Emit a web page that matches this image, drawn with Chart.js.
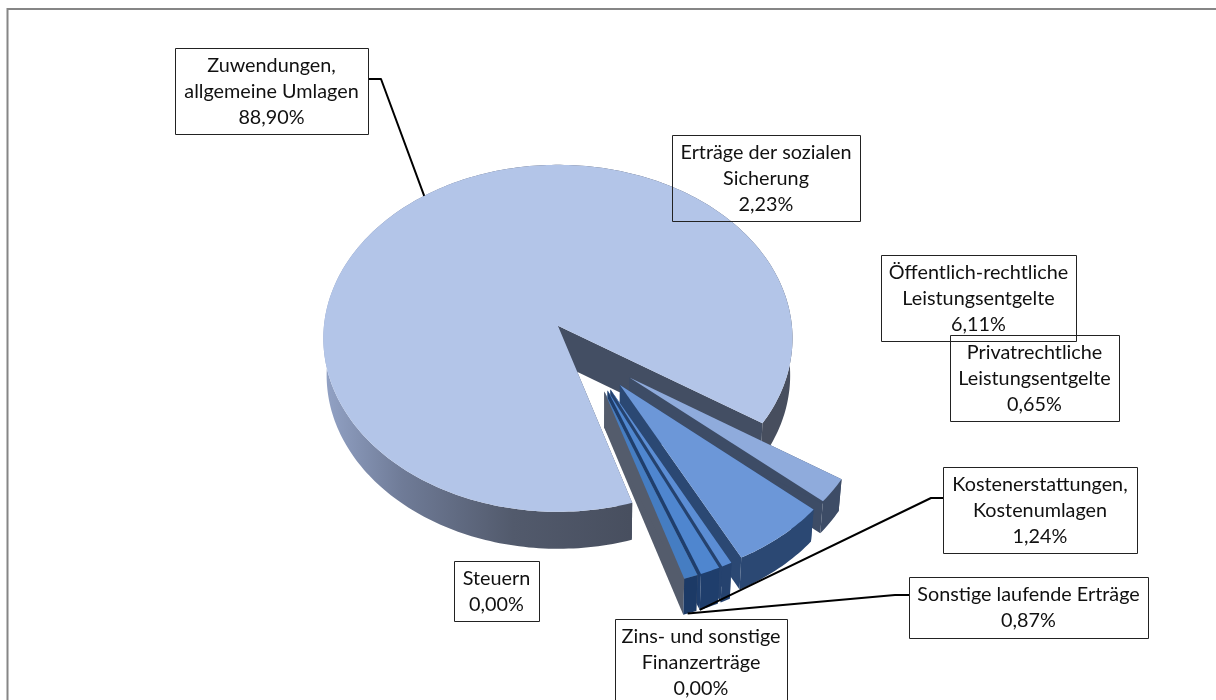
<!DOCTYPE html>
<html><head><meta charset="utf-8">
<style>html,body{margin:0;padding:0;background:#fff;overflow:hidden}#w{position:absolute;left:0;top:0;width:1216px;height:700px}</style>
<script src="https://cdn.jsdelivr.net/npm/chart.js@4"></script>
</head><body><div id="w"><canvas id="c" width="1216" height="700"></canvas></div>
<script>
const categories = ['Steuern','Zuwendungen, allgemeine Umlagen','Erträge der sozialen Sicherung','Öffentlich-rechtliche Leistungsentgelte','Privatrechtliche Leistungsentgelte','Kostenerstattungen, Kostenumlagen','Sonstige laufende Erträge','Zins- und sonstige Finanzerträge'];
const shares = [0.00,88.90,2.23,6.11,0.65,1.24,0.87,0.00];
const topColors = ['#b3c5e8','#b3c5e8','#8fabdc','#6c97d8','#5b8dd4','#4f86cf','#457dc2','#457dc2'];
const wallColors = ['#434e63','#434e63','#3d4c66','#2b4873','#25426e','#1f3e6c','#1c3a66','#1c3a66'];
const explode = [47,47,52,52,52,52,52,52];
const depths = [37,37,32,32,36,36,36,36];

// projection of the (exploded) pie plane onto the page
const V = {x:558,y:326,rx:234,ry:172.6,p:0.072,sx:0.121,sy:0.159,shrink:0.012};
function project(x,y){const X=x+V.sx,Y=-y-V.sy,w=1+V.p*Y;return {x:V.x+V.rx*X/w,y:V.y-V.ry*Y/w};}
function drop(p,d){return {x:p.x+(V.x+40-p.x)*V.shrink,y:p.y+d};}

// label boxes: [x0,y0,x1,y1], leader elbow, leader anchor along the slice's rim
const boxes = {
 0:{r:[454,561,539,621]},
 1:{r:[175,48,368,134],from:[368,79],elbow:[381,79],along:0.5,floor:false},
 2:{r:[672,135,860,221]},
 3:{r:[881,255,1076,341]},
 4:{r:[950,335,1119,421]},
 5:{r:[943,467,1137,553],from:[943,498],elbow:[931,498],along:1,floor:true},
 6:{r:[909,577,1148,638],from:[909,595],elbow:[895,595],along:0.5,floor:true},
 7:{r:[615,619,787,712]}
};

function geom(el,o){
 const a0=el.startAngle,a1=el.endAngle,m=(a0+a1)/2,R=el.outerRadius,off=o/R;
 const ox=Math.cos(m)*off,oy=Math.sin(m)*off;
 const pts=[];const n=Math.max(3,Math.ceil((a1-a0)/0.02));
 for(let i=0;i<=n;i++){const a=a0+(a1-a0)*i/n;pts.push({a,...project(ox+Math.cos(a),oy+Math.sin(a))});}
 return {c:project(ox,oy),pts,m,ox,oy};
}
function poly(ctx,ps,fill){ctx.beginPath();ps.forEach((p,i)=>i?ctx.lineTo(p.x,p.y):ctx.moveTo(p.x,p.y));ctx.closePath();ctx.fillStyle=fill;ctx.fill();}

const pie3d = {
 id:'pie3d',
 beforeDatasetsDraw(chart){
  const ctx=chart.ctx,meta=chart.getDatasetMeta(0);
  meta.data.forEach((el,i)=>{
   if(shares[i]<=0)return;
   const g=geom(el,el.options.offset),d=depths[i];
   const first=g.pts[0],last=g.pts[g.pts.length-1];
   const wall=wallColors[i];
   // radial walls
   poly(ctx,[g.c,last,drop(last,d),drop(g.c,d)],i===6?'#545c6c':wall);
   poly(ctx,[g.c,first,drop(first,d),drop(g.c,d)],i===6?'#545c6c':wall);
   // outer wall
   let fill=wall;
   if(i===1){fill=ctx.createLinearGradient(323,0,640,0);
    fill.addColorStop(0,'#93a3c6');fill.addColorStop(.25,'#6f7b97');fill.addColorStop(.6,'#525a6c');fill.addColorStop(1,'#474e5e');
   }
   const outer=g.pts.concat(g.pts.slice().reverse().map(p=>drop(p,d)));
   poly(ctx,outer,fill);
   // top face
   ctx.beginPath();ctx.moveTo(g.c.x,g.c.y);g.pts.forEach(p=>ctx.lineTo(p.x,p.y));ctx.closePath();
   ctx.fillStyle=el.options.backgroundColor;ctx.fill();
  });
  return false;
 },
 afterDraw(chart){
  const ctx=chart.ctx,meta=chart.getDatasetMeta(0);
  ctx.save();
  // chart frame: only its top and left edges are inside the picture
  ctx.strokeStyle='#868686';ctx.lineWidth=2;
  ctx.beginPath();ctx.moveTo(1216,9);ctx.lineTo(7.5,9);ctx.lineTo(7.5,700);ctx.stroke();
  // leaders
  ctx.strokeStyle='#000';ctx.lineWidth=2;ctx.lineJoin='round';
  Object.keys(boxes).forEach(k=>{
   const b=boxes[k];if(!b.from)return;
   const el=meta.data[k],g=geom(el,el.options.offset);
   let end=g.pts[Math.round((g.pts.length-1)*b.along)];
   if(b.floor)end=drop(end,depths[k]);
   ctx.beginPath();ctx.moveTo(b.from[0],b.from[1]);ctx.lineTo(b.elbow[0],b.elbow[1]);ctx.lineTo(end.x,end.y);ctx.stroke();
  });
  // label boxes
  ctx.font='19.8px Lato, Carlito, sans-serif';ctx.textAlign='center';ctx.textBaseline='middle';
  Object.keys(boxes).forEach(k=>{
   const b=boxes[k],[x0,y0,x1,y1]=b.r;
   ctx.strokeStyle='#222';ctx.lineWidth=1;ctx.strokeRect(x0+.5,y0+.5,x1-x0,y1-y0);
   const words=categories[k].split(' ');const lines=[];let cur='';
   words.forEach(w=>{const t=cur?cur+' '+w:w;if(ctx.measureText(t).width>x1-x0-8&&cur){lines.push(cur);cur=w;}else cur=t;});
   lines.push(cur);lines.push(shares[k].toFixed(2).replace('.',',')+'%');
   ctx.fillStyle='#111';
   const lh=26.4,top=y0+4+lh/2;
   lines.forEach((l,i)=>ctx.fillText(l,(x0+x1)/2,top+i*lh));
  });
  ctx.restore();
 }
};

new Chart(document.getElementById('c'),{
 type:'pie',
 data:{labels:categories,datasets:[{data:shares,backgroundColor:topColors,offset:explode,borderWidth:0,radius:234}]},
 options:{responsive:false,animation:false,rotation:162.8,
  plugins:{legend:{display:false},tooltip:{enabled:false}}},
 plugins:[pie3d]
});
</script></body></html>
